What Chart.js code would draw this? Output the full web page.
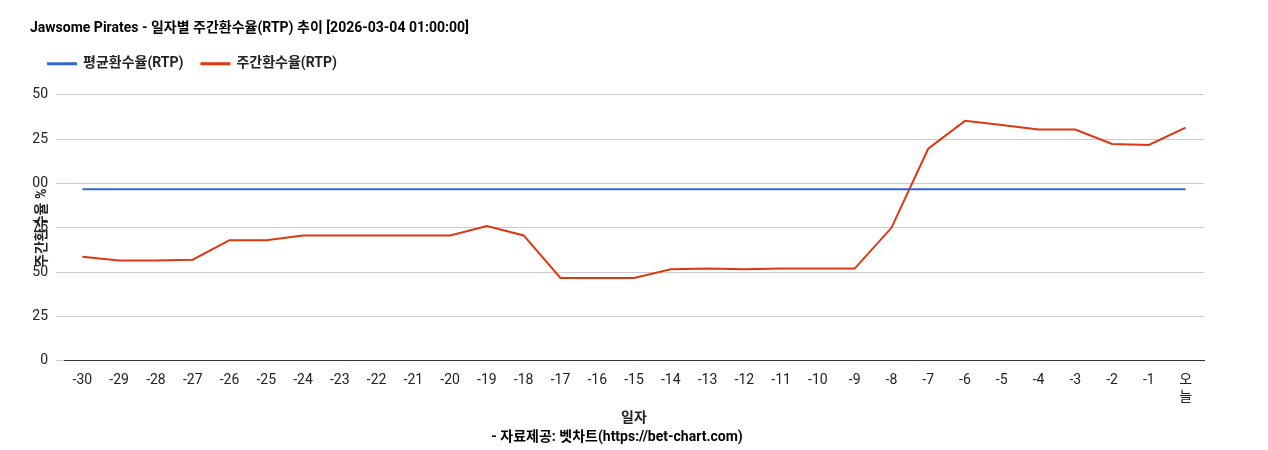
<!DOCTYPE html>
<html><head><meta charset="utf-8">
<script src="https://cdn.jsdelivr.net/npm/chart.js@4"></script>
<style>body{margin:0;background:#fff}#wrap{width:1268px;height:450px}</style>
</head><body><div id="wrap"><canvas id="c"></canvas></div>
<script>
var days = ["-30","-29","-28","-27","-26","-25","-24","-23","-22","-21","-20","-19","-18","-17","-16","-15","-14","-13","-12","-11","-10","-9","-8","-7","-6","-5","-4","-3","-2","-1",["오","늘"]];
var avgRtp = [96.7,96.7,96.7,96.7,96.7,96.7,96.7,96.7,96.7,96.7,96.7,96.7,96.7,96.7,96.7,96.7,96.7,96.7,96.7,96.7,96.7,96.7,96.7,96.7,96.7,96.7,96.7,96.7,96.7,96.7,96.7];
var weekRtp = [58.7,56.5,56.5,57,68,68,70.7,70.7,70.7,70.7,70.7,76,70.7,46.7,46.7,46.7,51.6,52,51.6,52,52,52,75,119.6,135.3,133,130.4,130.4,122.3,121.7,131.5];
var yTicks = [0,25,50,75,100,125,150];

var font = "Roboto, 'Noto Sans CJK KR', sans-serif";
Chart.defaults.font.family = font;
Chart.defaults.color = '#222';

new Chart(document.getElementById('c').getContext('2d'), {
  type: 'line',
  data: {
    labels: days,
    datasets: [
      {label: '평균환수율(RTP)', data: avgRtp, borderColor: '#3366cc', backgroundColor: '#3366cc', borderWidth: 2, pointRadius: 0, tension: 0},
      {label: '주간환수율(RTP)', data: weekRtp, borderColor: '#dc3912', backgroundColor: '#dc3912', borderWidth: 2, pointRadius: 0, tension: 0}
    ]
  },
  options: {
    responsive: true, maintainAspectRatio: false, animation: false,
    layout: {padding: {left: 30, right: 64, top: 12, bottom: 0}},
    plugins: {
      title: {display: true, text: 'Jawsome Pirates - 일자별 주간환수율(RTP) 추이 [2026-03-04 01:00:00]', align: 'start', font: {size: 14, weight: 'bold'}, color: '#000', padding: {top: 8, bottom: 2}},
      legend: {align: 'start', labels: {boxWidth: 28, boxHeight: 1, font: {size: 14, weight: 'bold'}, color: '#222', padding: 18}},
      subtitle: {display: true, position: 'bottom', text: '- 자료제공: 벳차트(https://bet-chart.com)', font: {size: 14, weight: 'bold'}, color: '#000', padding: {top: 0, bottom: 4}},
      tooltip: {enabled: false}
    },
    scales: {
      x: {
        offset: true,
        grid: {display: false},
        border: {color: '#333'},
        ticks: {font: {size: 14}, color: '#222', maxRotation: 0, autoSkip: false},
        title: {display: true, text: '일자', font: {size: 14, weight: 'bold'}, color: '#222', padding: {top: 2, bottom: 2}}
      },
      y: {
        min: 0, max: 150,
        afterBuildTicks: function(ax){ ax.ticks = yTicks.map(function(v){return {value: v};}); },
        afterFit: function(ax){ ax.width = 34; },
        grid: {color: '#ccc'},
        border: {display: false},
        ticks: {font: {size: 14}, color: '#222', padding: 8},
        title: {display: true, text: '주간환수율 %', font: {size: 14, weight: 'bold'}, color: '#222'}
      }
    }
  },
  plugins: [{
    id: 'gap',
    beforeInit: function(chart){
      var fit = chart.legend.fit;
      chart.legend.fit = function(){ fit.bind(chart.legend)(); this.height += 14; };
    }
  }]
});
</script></body></html>
